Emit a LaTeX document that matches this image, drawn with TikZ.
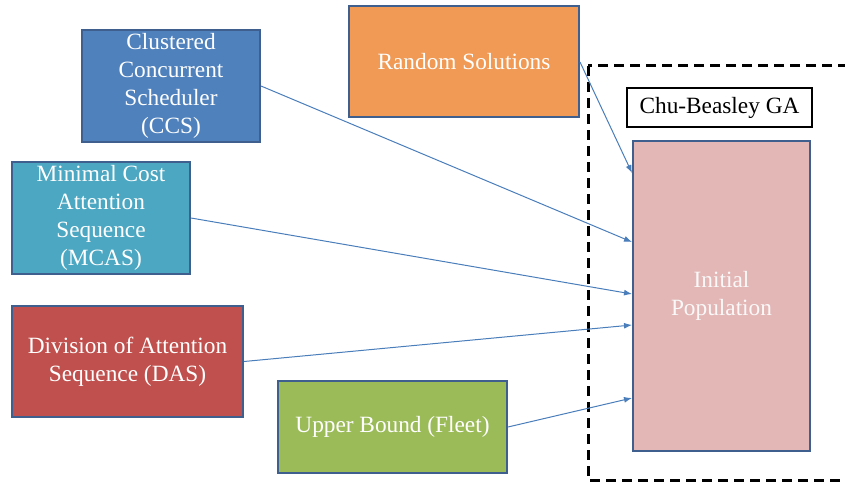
\documentclass[tikz,border=0pt]{standalone}
\usepackage{fontspec}
\setmainfont{Liberation Serif}
\newfontfamily\boxfont{Liberation Serif}
\usetikzlibrary{arrows.meta}
\definecolor{ccsblue}{HTML}{4F81BD}
\definecolor{randorange}{HTML}{F09A55}
\definecolor{mcasteal}{HTML}{4BA7C2}
\definecolor{dasred}{HTML}{C0504D}
\definecolor{ubgreen}{HTML}{9BBB59}
\definecolor{poppink}{HTML}{E4B7B7}
\definecolor{edgeblue}{HTML}{3F5F8F}
\definecolor{linkblue}{HTML}{4A7EBB}
\tikzset{
  x=1pt, y=-1pt,
  srcbox/.style={draw=edgeblue, line width=2pt, text=white, align=center,
    inner sep=0pt, font=\boxfont\fontsize{23.3}{28}\selectfont},
  popbox/.style={srcbox, fill=poppink, text=white!95!gray},
  gabox/.style={draw=black, line width=1.3pt, fill=white, inner sep=0pt,
    font=\boxfont\fontsize{23.3}{28}\selectfont},
  feed/.style={draw=linkblue, line width=1pt, -{Latex[length=8pt,width=6pt]}},
  frame/.style={draw=black, line width=3pt, dash pattern=on 10pt off 6pt}
}
\begin{document}
\begin{tikzpicture}
\useasboundingbox (0,0) rectangle (845,484);
\clip (0,0) rectangle (845,484);

% dashed frame of the genetic algorithm
\draw[frame] (588,66) rectangle (880,480);
\node[gabox, minimum width=185pt, minimum height=39pt] (ga) at (719.5,107.5) {Chu-Beasley GA};

% population block
\node[popbox, minimum width=177pt, minimum height=310pt] (ip) at (721.5,296) {Initial\\Population};

% sources of initial solutions
\node[srcbox, fill=ccsblue, minimum width=178pt, minimum height=111pt] (ccs) at (171,86)
  {Clustered\\Concurrent\\Scheduler\\(CCS)};
\node[srcbox, fill=randorange, minimum width=230pt, minimum height=111pt] (rand) at (464,62)
  {Random Solutions};
\node[srcbox, fill=mcasteal, minimum width=178pt, minimum height=112pt] (mcas) at (101,218)
  {Minimal Cost\\Attention\\Sequence\\(MCAS)};
\node[srcbox, fill=dasred, minimum width=231pt, minimum height=111pt] (das) at (127.5,361.5)
  {Division of Attention\\Sequence (DAS)};
\node[srcbox, fill=ubgreen, minimum width=229pt, minimum height=92pt] (ub) at (392.5,427)
  {Upper Bound (Fleet)};

% feeds into the population
\draw[feed] (rand.east) -- ([yshift=123pt]ip.west);
\draw[feed] (ccs.east)  -- ([yshift=54pt]ip.west);
\draw[feed] (mcas.east) -- ([yshift=2pt]ip.west);
\draw[feed] (das.east)  -- ([yshift=-29pt]ip.west);
\draw[feed] (ub.east)   -- ([yshift=-102pt]ip.west);
\end{tikzpicture}
\end{document}
